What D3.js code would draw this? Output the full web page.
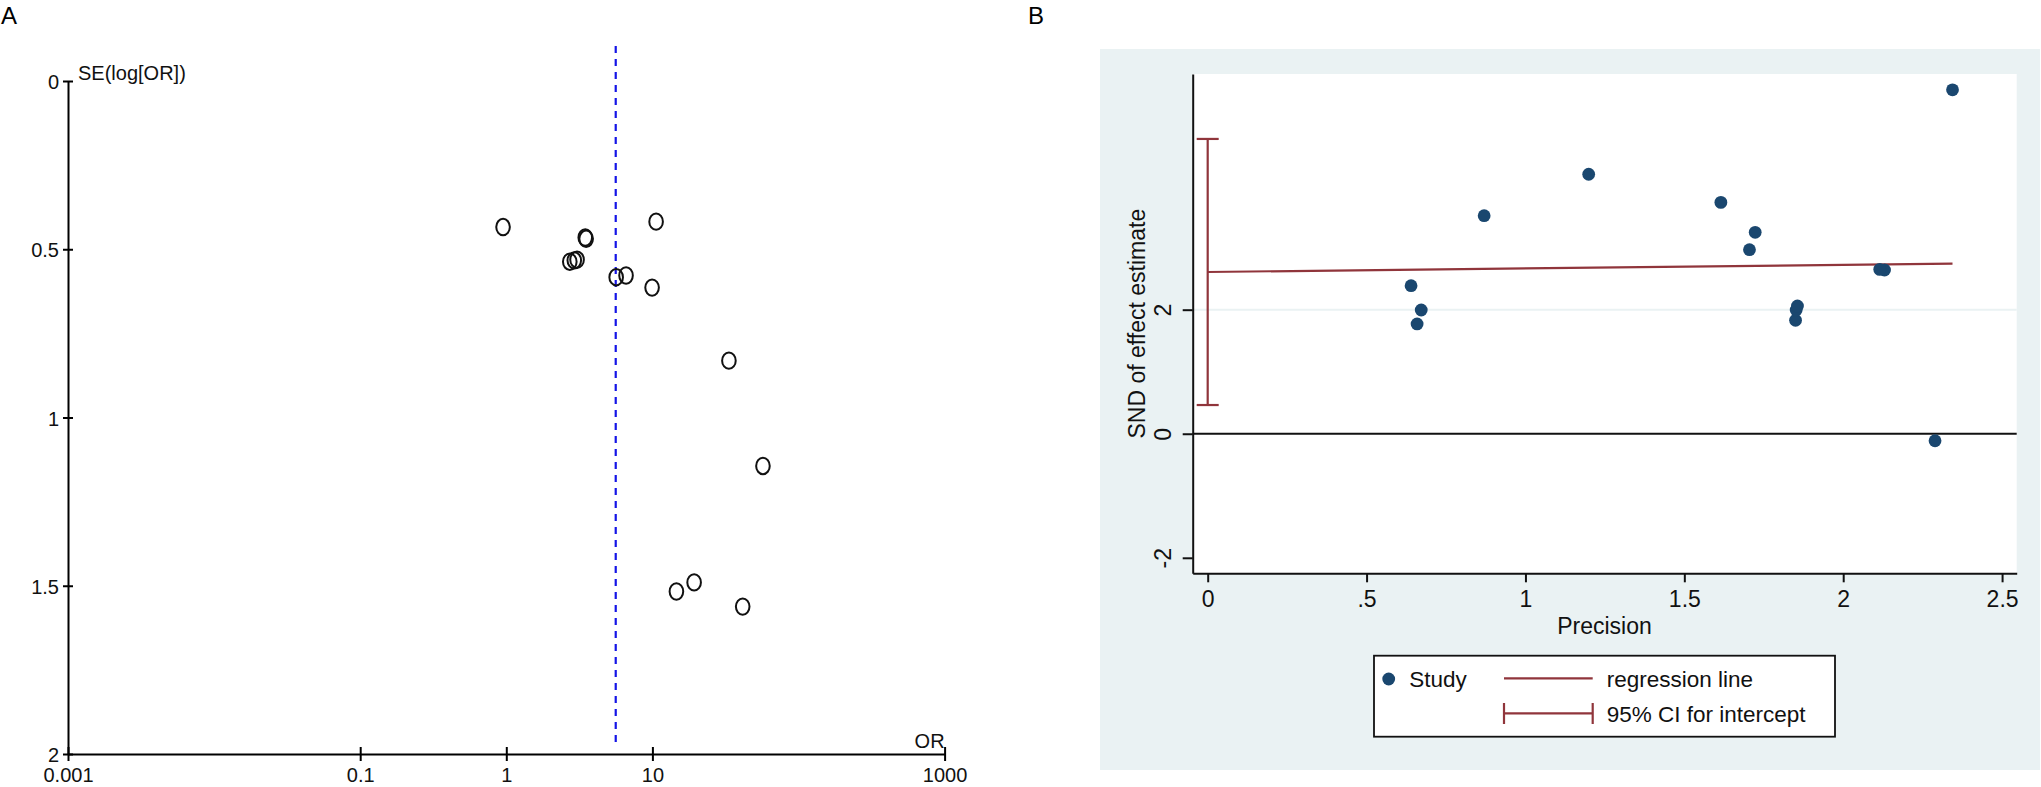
<!DOCTYPE html>
<html>
<head>
<meta charset="utf-8">
<script src="https://cdn.jsdelivr.net/npm/d3@7"></script>
<style>
  html, body { margin: 0; padding: 0; background: #fff; }
  svg text { font-family: "Liberation Sans", Arial, sans-serif; }
</style>
</head>
<body>
<div id="chart"></div>
<script>
// Panel A: funnel plot (OR vs SE of log OR)
const orValues = [0.95, 3.47, 3.52, 2.72, 2.92, 3.05, 5.65, 6.6, 10.6, 9.95, 33.4, 57.1, 19.3, 14.6, 41.5];
const seValues = [0.434, 0.465, 0.469, 0.537, 0.533, 0.531, 0.583, 0.578, 0.418, 0.614, 0.831, 1.144, 1.490, 1.517, 1.562];
const pooledOR = 5.61;
const orTicks = [0.001, 0.1, 1, 10, 1000];
const seTicks = [0, 0.5, 1, 1.5, 2];

// Panel B: Egger's regression (precision vs standard normal deviate)
const precision = [2.289, 2.13, 2.115, 1.850, 1.852, 1.856, 1.705, 1.723, 2.344, 1.615, 1.199, 0.870, 0.672, 0.659, 0.640];
const snd = [-0.113, 2.64, 2.65, 1.83, 1.995, 2.06, 2.968, 3.248, 5.545, 3.73, 4.184, 3.516, 1.995, 1.77, 2.387];
const eggerIntercept = 2.608;
const eggerSlope = 0.057;
const interceptCI = [0.463, 4.753];
const precisionTicks = [0, 0.5, 1, 1.5, 2, 2.5];
const sndTicks = [-2, 0, 2];
const legendLabels = ["Study", "regression line", "95% CI for intercept"];

const width = 2041, height = 787;
const navy = "#1a476f", maroon = "#90353b", bgBlue = "#eaf2f3";

const svg = d3.select("#chart").append("svg")
    .attr("width", width)
    .attr("height", height)
    .attr("viewBox", [0, 0, width, height]);

svg.append("rect").attr("width", width).attr("height", height).attr("fill", "#fff");

// ---------- panel A ----------
const xA = d3.scaleLog().domain([0.001, 1000]).range([68, 944.6]);
const yA = d3.scaleLinear().domain([0, 2]).range([81, 754]);

svg.append("text").attr("x", 1).attr("y", 24).attr("font-size", 24).text("A");

const gxA = svg.append("g")
    .attr("transform", `translate(0,${yA(2)})`)
    .call(d3.axisBottom(xA).tickValues(orTicks).tickFormat(d => String(d))
      .tickSize(7).tickSizeOuter(0).tickPadding(7));
gxA.select(".domain").attr("stroke", "#000").attr("stroke-width", 2);
gxA.selectAll(".tick line").attr("y1", -7).attr("stroke-width", 2);
gxA.selectAll(".tick text").attr("font-size", 20).attr("fill", "#111");

const gyA = svg.append("g")
    .attr("transform", `translate(${xA(0.001)},0)`)
    .call(d3.axisLeft(yA).tickValues(seTicks).tickFormat(d => String(d))
      .tickSize(5).tickSizeOuter(0).tickPadding(4));
gyA.select(".domain").attr("stroke", "#000").attr("stroke-width", 2);
gyA.selectAll(".tick line").attr("x1", 5).attr("stroke-width", 2);
gyA.selectAll(".tick text").attr("font-size", 20).attr("dy", "0.38em").attr("fill", "#111");

svg.append("text").attr("x", 78).attr("y", 80).attr("font-size", 20).attr("fill", "#111").text("SE(log[OR])");
svg.append("text").attr("x", xA(1000)).attr("y", 748).attr("font-size", 20)
    .attr("text-anchor", "end").attr("fill", "#111").text("OR");

svg.append("line")
    .attr("x1", xA(pooledOR)).attr("x2", xA(pooledOR))
    .attr("y1", yA(-0.104)).attr("y2", yA(1.976))
    .attr("stroke", "#1414e6").attr("stroke-width", 2.2)
    .attr("stroke-dasharray", "7,6");

svg.append("g")
  .selectAll("ellipse")
  .data(orValues.map((d, i) => ({or: d, se: seValues[i]})))
  .join("ellipse")
    .attr("cx", d => xA(d.or))
    .attr("cy", d => yA(d.se))
    .attr("rx", 6.8)
    .attr("ry", 8.2)
    .attr("fill", "none")
    .attr("stroke", "#111")
    .attr("stroke-width", 2);

// ---------- panel B ----------
svg.append("text").attr("x", 1028).attr("y", 24).attr("font-size", 24).text("B");

svg.append("rect").attr("x", 1100).attr("y", 49).attr("width", 940).attr("height", 721).attr("fill", bgBlue);

const xB = d3.scaleLinear().domain([-0.0472, 2.546]).range([1192.7, 2016.7]);
const yB = d3.scaleLinear().domain([-2.25, 5.8]).range([573.3, 74]);

svg.append("rect")
    .attr("x", xB.range()[0]).attr("y", yB.range()[1])
    .attr("width", xB.range()[1] - xB.range()[0])
    .attr("height", yB.range()[0] - yB.range()[1])
    .attr("fill", "#fff");

// light grid at 2
svg.append("line")
    .attr("x1", xB.range()[0]).attr("x2", xB.range()[1])
    .attr("y1", yB(2)).attr("y2", yB(2))
    .attr("stroke", bgBlue).attr("stroke-width", 2);

// zero reference line
svg.append("line")
    .attr("x1", xB.range()[0]).attr("x2", xB.range()[1])
    .attr("y1", yB(0)).attr("y2", yB(0))
    .attr("stroke", "#111").attr("stroke-width", 2);

const gxB = svg.append("g")
    .attr("transform", `translate(0,${yB.range()[0]})`)
    .call(d3.axisBottom(xB).tickValues(precisionTicks)
      .tickFormat(d => d === 0 ? "0" : String(d).replace(/^0/, ""))
      .tickSize(9).tickSizeOuter(0).tickPadding(8));
gxB.select(".domain").attr("stroke", "#111").attr("stroke-width", 2);
gxB.selectAll(".tick line").attr("stroke", "#111").attr("stroke-width", 2);
gxB.selectAll(".tick text").attr("font-size", 23).attr("fill", "#111");

const gyB = svg.append("g")
    .attr("transform", `translate(${xB.range()[0]},0)`)
    .call(d3.axisLeft(yB).tickValues(sndTicks).tickFormat(d => String(d))
      .tickSize(10).tickSizeOuter(0));
gyB.select(".domain").attr("stroke", "#111").attr("stroke-width", 2);
gyB.selectAll(".tick line").attr("stroke", "#111").attr("stroke-width", 2);
gyB.selectAll(".tick text")
    .attr("font-size", 23).attr("fill", "#111")
    .attr("transform", "rotate(-90)")
    .attr("x", 0).attr("y", -22).attr("dy", 0)
    .attr("text-anchor", "middle");

svg.append("text")
    .attr("transform", `translate(1145,${(yB.range()[0] + yB.range()[1]) / 2}) rotate(-90)`)
    .attr("text-anchor", "middle").attr("font-size", 23).attr("fill", "#111")
    .text("SND of effect estimate");

svg.append("text")
    .attr("x", (1557 + 1652) / 2).attr("y", 634)
    .attr("text-anchor", "middle").attr("font-size", 23).attr("fill", "#111")
    .text("Precision");

// CI for intercept
const ciG = svg.append("g").attr("stroke", maroon).attr("stroke-width", 2.2);
ciG.append("line").attr("x1", xB(0)).attr("x2", xB(0)).attr("y1", yB(interceptCI[0])).attr("y2", yB(interceptCI[1]));
interceptCI.forEach(v => {
  ciG.append("line").attr("x1", xB(0) - 11).attr("x2", xB(0) + 11).attr("y1", yB(v)).attr("y2", yB(v));
});

// regression line
const pMax = d3.max(precision);
svg.append("line")
    .attr("x1", xB(0)).attr("y1", yB(eggerIntercept))
    .attr("x2", xB(pMax)).attr("y2", yB(eggerIntercept + eggerSlope * pMax))
    .attr("stroke", maroon).attr("stroke-width", 2.2);

svg.append("g")
  .selectAll("circle")
  .data(precision.map((d, i) => ({p: d, s: snd[i]})))
  .join("circle")
    .attr("cx", d => xB(d.p))
    .attr("cy", d => yB(d.s))
    .attr("r", 6.4)
    .attr("fill", navy);

// legend
const lg = svg.append("g");
lg.append("rect").attr("x", 1374).attr("y", 655.7).attr("width", 461).attr("height", 81)
    .attr("fill", "#fff").attr("stroke", "#111").attr("stroke-width", 1.8);
lg.append("circle").attr("cx", 1388.7).attr("cy", 679).attr("r", 6.4).attr("fill", navy);
lg.append("text").attr("x", 1409.3).attr("y", 687).attr("font-size", 22.5).attr("fill", "#111").text(legendLabels[0]);
lg.append("line").attr("x1", 1504).attr("x2", 1592.7).attr("y1", 678.3).attr("y2", 678.3)
    .attr("stroke", maroon).attr("stroke-width", 2.2);
lg.append("text").attr("x", 1606.7).attr("y", 687).attr("font-size", 22.5).attr("fill", "#111").text(legendLabels[1]);
const lci = lg.append("g").attr("stroke", maroon).attr("stroke-width", 2.2);
lci.append("line").attr("x1", 1504).attr("x2", 1592.7).attr("y1", 713.3).attr("y2", 713.3);
lci.append("line").attr("x1", 1504).attr("x2", 1504).attr("y1", 703).attr("y2", 724);
lci.append("line").attr("x1", 1592.7).attr("x2", 1592.7).attr("y1", 703).attr("y2", 724);
lg.append("text").attr("x", 1606.7).attr("y", 721.7).attr("font-size", 22.5).attr("fill", "#111").text(legendLabels[2]);
</script>
</body>
</html>
